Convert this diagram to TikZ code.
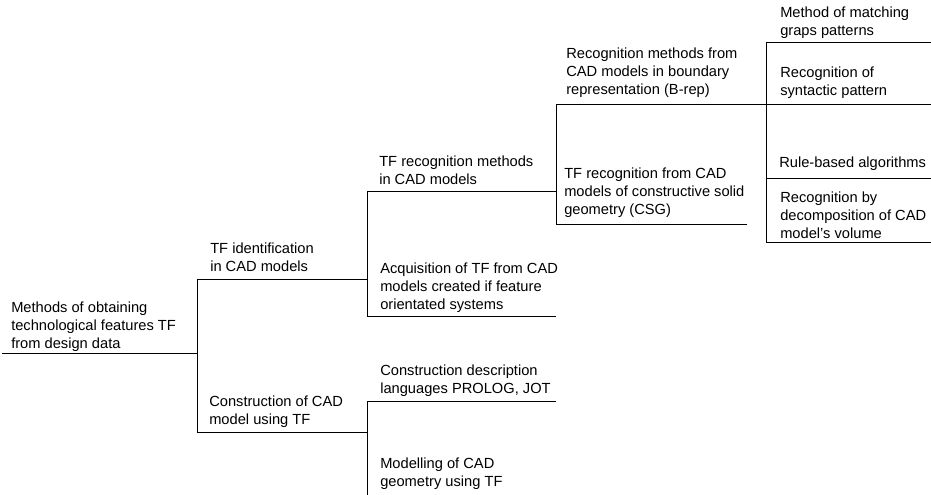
\documentclass[tikz,border=0pt]{standalone}
\usepackage{fontspec}
\setmainfont{Liberation Sans}
\begin{document}
\begin{tikzpicture}[x=0.75pt, y=-0.75pt]
    \useasboundingbox (0,0) rectangle (931,494);
    \clip (0,0) rectangle (931,494);

    % ends of the branch lines
    \coordinate (m0) at (2,353);   \coordinate (m1) at (197,353);
    \coordinate (a0) at (197,279); \coordinate (a1) at (367,279);
    \coordinate (b0) at (197,432); \coordinate (b1) at (367,432);
    \coordinate (c0) at (367,191); \coordinate (c1) at (556,191);
    \coordinate (d0) at (367,316); \coordinate (d1) at (556,316);
    \coordinate (e0) at (556,104); \coordinate (e1) at (766,104);
    \coordinate (f0) at (556,224); \coordinate (f1) at (747,224);
    \coordinate (g0) at (766,42);  \coordinate (g1) at (931,42);
    \coordinate (h1) at (931,104);
    \coordinate (i0) at (766,178); \coordinate (i1) at (931,178);
    \coordinate (j0) at (766,242); \coordinate (j1) at (931,242);
    \coordinate (k0) at (367,401); \coordinate (k1) at (556,401);
    \coordinate (l0) at (367,499);

    \begin{scope}[every node/.style={anchor=south west, align=left, inner sep=0pt, text depth=0pt, font=\fontsize{11}{13.5}\selectfont}]
        \node (root) at (11,349) {Methods of obtaining\\technological features TF\\from design data};
        \node (ident) at (210,272) {TF identification\\in CAD models};
        \node (constr) at (209,425) {Construction of CAD\\model using TF};
        \node (recog) at (379,185) {TF recognition methods\\in CAD models};
        \node (acq) at (380,310) {Acquisition of TF from CAD\\models created if feature\\orientated systems};
        \node (brep) at (566,95) {Recognition methods from\\CAD models in boundary\\representation (B-rep)};
        \node (csg) at (564,215) {TF recognition from CAD\\models of constructive solid\\geometry (CSG)};
        \node (graph) at (780,36) {Method of matching\\graps patterns};
        \node (synt) at (780,96) {Recognition of\\syntactic pattern};
        \node (rule) at (779,168) {Rule-based algorithms};
        \node (decomp) at (780,239) {Recognition by\\decomposition of CAD\\model's volume};
        \node (lang) at (380,394) {Construction description\\languages PROLOG, JOT};
        \node (model) at (380,487) {Modelling of CAD\\geometry using TF};
    \end{scope}

    \begin{scope}[every edge/.style={draw, line width=0.75pt}]
        \path [-] (m0) edge (m1);
        \path [-] (a0) edge (b0);
        \path [-] (a0) edge (a1);
        \path [-] (b0) edge (b1);
        \path [-] (c0) edge (d0);
        \path [-] (c0) edge (c1);
        \path [-] (d0) edge (d1);
        \path [-] (e0) edge (f0);
        \path [-] (e0) edge (e1);
        \path [-] (e1) edge (h1);
        \path [-] (f0) edge (f1);
        \path [-] (g0) edge (j0);
        \path [-] (g0) edge (g1);
        \path [-] (i0) edge (i1);
        \path [-] (j0) edge (j1);
        \path [-] (k0) edge (l0);
        \path [-] (k0) edge (k1);
    \end{scope}
\end{tikzpicture}
\end{document}
